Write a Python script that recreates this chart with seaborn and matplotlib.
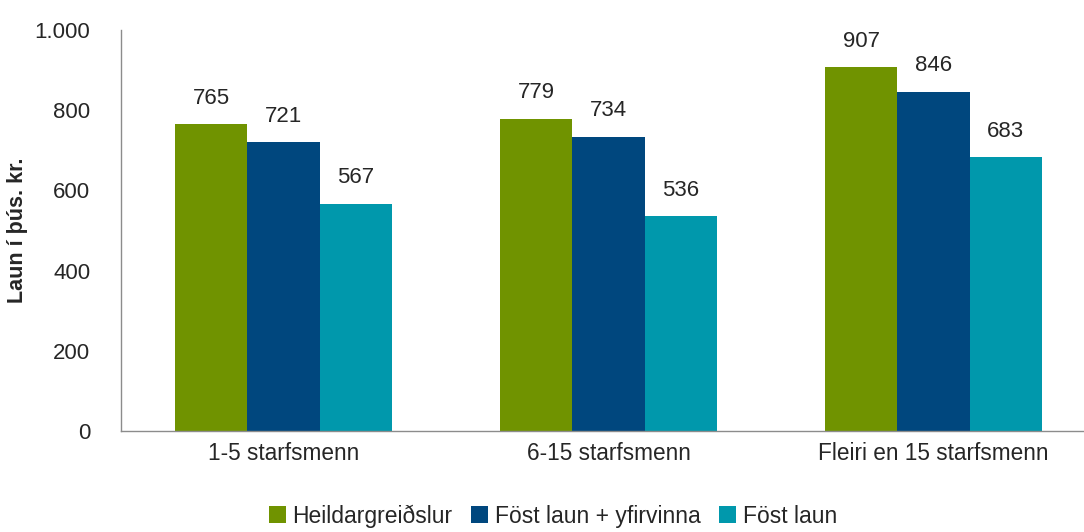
import pandas as pd
import matplotlib.pyplot as plt
import matplotlib.ticker as mticker
import seaborn as sns

# Data
categories = ["1-5 starfsmenn", "6-15 starfsmenn", "Fleiri en 15 starfsmenn"]
series = ["Heildargreiðslur", "Föst laun + yfirvinna", "Föst laun"]
heildar = [765, 779, 907]
fost_yfir = [721, 734, 846]
fost = [567, 536, 683]
colors = ["#709300", "#00477E", "#0098AC"]

df = pd.DataFrame({
    "flokkur": categories * 3,
    "tegund": [series[0]] * 3 + [series[1]] * 3 + [series[2]] * 3,
    "laun": heildar + fost_yfir + fost,
})

sns.set_style("white")
plt.rcParams["font.family"] = ["Liberation Sans", "DejaVu Sans"]

fig = plt.figure(figsize=(10.84, 5.32), dpi=100)
ax = fig.add_axes([121 / 1084, 101 / 532, 975 / 1084, 401 / 532])

sns.barplot(data=df, x="flokkur", y="laun", hue="tegund", palette=colors,
            width=0.667, saturation=1, linewidth=0, ax=ax, legend=True)

# value labels
for cont in ax.containers:
    ax.bar_label(cont, fmt="%d", padding=11, fontsize=16)

ax.set_ylim(0, 1000)
ax.set_xlim(-0.5, 2.5)
ax.yaxis.set_major_locator(mticker.MultipleLocator(200))
ax.yaxis.set_major_formatter(mticker.FuncFormatter(lambda v, p: f"{int(v):,}".replace(",", ".")))
ax.tick_params(axis="y", length=0, labelsize=16, pad=22)
ax.tick_params(axis="x", length=0, labelsize=16.3, pad=8)
ax.set_xlabel("")
ax.set_ylabel("Laun í þús. kr.", fontsize=15.5, fontweight="bold")
ax.yaxis.set_label_coords(-0.095, 0.5)

for s in ["top", "right"]:
    ax.spines[s].set_visible(False)
for s in ["left", "bottom"]:
    ax.spines[s].set_color("#8c8c8c")
    ax.spines[s].set_linewidth(1)

ax.legend(loc="center", bbox_to_anchor=(553 / 1084, 16 / 532),
          bbox_transform=fig.transFigure, ncol=3, frameon=False,
          fontsize=16.5, handlelength=0.75, handleheight=0.75,
          handletextpad=0.3, columnspacing=0.8)

plt.savefig("out.png", dpi=100)
